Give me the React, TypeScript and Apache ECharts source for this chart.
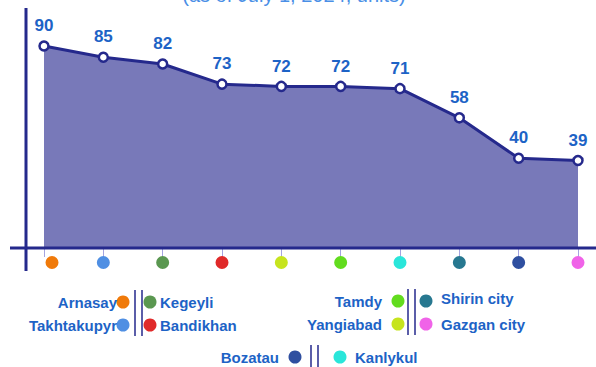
import React, { useEffect, useRef } from "react";
import * as echarts from "echarts";

// Districts in plotting order, with their unit counts and marker colours
const districts = [
  "Arnasay",
  "Takhtakupyr",
  "Kegeyli",
  "Bandikhan",
  "Yangiabad",
  "Tamdy",
  "Kanlykul",
  "Shirin city",
  "Bozatau",
  "Gazgan city",
];
const units = [90, 85, 82, 73, 72, 72, 71, 58, 40, 39];
const districtColors = [
  "#f07a0a",
  "#4f8fe3",
  "#5a9750",
  "#e02a2a",
  "#c6e41e",
  "#62dc1e",
  "#2ae6da",
  "#277890",
  "#2f4fa0",
  "#f063e8",
];

const titleText = "(as of July 1, 2024, units)";

// Legend layout: pairs of districts left/right of a double divider
const legendGroups = [
  { left: ["Arnasay", "Takhtakupyr"], right: ["Kegeyli", "Bandikhan"], x: 123, y: 302 },
  { left: ["Tamdy", "Yangiabad"], right: ["Shirin city", "Gazgan city"], x: 398, y: 301 },
  { left: ["Bozatau"], right: ["Kanlykul"], x: 295, y: 357 },
];

const NAVY = "#25298c";
const LABEL_BLUE = "#1d63c6";

function buildLegend() {
  const els: any[] = [];
  const colorOf = (n: string) => districtColors[districts.indexOf(n)];
  const font = "bold 15px 'Liberation Sans', Arial, sans-serif";
  legendGroups.forEach((g, gi) => {
    const rowGap = 23;
    const dotGapL = gi === 0 ? 6 : 16;
    const barX1 = g.x + (gi === 0 ? 12 : gi === 1 ? 10 : 16);
    const barX2 = barX1 + 7;
    const rightDotX = gi === 0 ? g.x + 27 : gi === 1 ? g.x + 28 : g.x + 45;
    const textGapR = gi === 0 ? 10 : 15;
    g.left.forEach((name, i) => {
      const y = g.y + i * rowGap;
      els.push({
        type: "circle",
        shape: { cx: g.x, cy: y, r: 6.5 },
        style: { fill: colorOf(name) },
      });
      els.push({
        type: "text",
        x: g.x - dotGapL,
        y,
        style: {
          text: name,
          font,
          fill: LABEL_BLUE,
          align: "right",
          verticalAlign: "middle",
        },
      });
    });
    g.right.forEach((name, i) => {
      const y = g.y + i * rowGap;
      els.push({
        type: "circle",
        shape: { cx: rightDotX, cy: y, r: 6.5 },
        style: { fill: colorOf(name) },
      });
      els.push({
        type: "text",
        x: rightDotX + textGapR,
        y: y - (gi === 1 && i === 0 ? 3 : 0),
        style: {
          text: name,
          font,
          fill: LABEL_BLUE,
          align: "left",
          verticalAlign: "middle",
        },
      });
    });
    const top = g.y - 12;
    const bottom = g.y + (g.left.length - 1) * rowGap + 11;
    [barX1, barX2].forEach((bx) =>
      els.push({
        type: "line",
        shape: { x1: bx, y1: top, x2: bx, y2: Math.min(bottom, 367) },
        style: { stroke: NAVY, lineWidth: 1.5 },
      })
    );
  });
  return els;
}

export default function App() {
  const ref = useRef<HTMLDivElement>(null);

  useEffect(() => {
    if (!ref.current) return;
    const chart = echarts.init(ref.current, undefined, { renderer: "svg" });

    const rich: Record<string, any> = { s: { width: 16, height: 13 } };
    districtColors.forEach((c, i) => {
      rich["d" + i] = {
        width: 13,
        height: 13,
        borderRadius: 6.5,
        backgroundColor: c,
      };
    });

    chart.setOption({
      animation: false,
      backgroundColor: "#ffffff",
      grid: { left: 44, right: 18, top: 46, bottom: 119 },
      xAxis: {
        type: "category",
        data: districts,
        boundaryGap: false,
        axisLine: { show: false },
        axisTick: {
          show: true,
          length: 9,
          lineStyle: { color: "#a4a4e0", width: 1 },
        },
        axisLabel: {
          margin: 8,
          interval: 0,
          // first marker sits a little right of its tick
          formatter: (_v: string, idx: number) =>
            idx === 0 ? `{s| }{d0| }` : `{d${idx}| }`,
          rich,
        },
      },
      yAxis: {
        type: "value",
        min: 0,
        max: 90,
        show: false,
        splitLine: { show: false },
      },
      series: [
        {
          type: "line",
          data: units,
          symbol: "circle",
          symbolSize: 9,
          itemStyle: { color: "#ffffff", borderColor: NAVY, borderWidth: 2.5 },
          lineStyle: { color: NAVY, width: 3 },
          areaStyle: { color: "#7879b9", opacity: 1 },
          label: {
            show: true,
            position: "top",
            distance: 6,
            color: LABEL_BLUE,
            fontSize: 17,
            fontWeight: "bold",
            fontFamily: "'Liberation Sans', Arial, sans-serif",
          },
          z: 3,
        },
      ],
      graphic: [
        {
          type: "text",
          x: 294,
          y: 5,
          style: {
            text: titleText,
            font: "20px 'Liberation Sans', Arial, sans-serif",
            fill: "#4a8fe6",
            align: "center",
            verticalAlign: "bottom",
          },
        },
        {
          type: "line",
          shape: { x1: 26, y1: 8, x2: 26, y2: 271 },
          style: { stroke: NAVY, lineWidth: 3 },
          z: 10,
        },
        {
          type: "line",
          shape: { x1: 10, y1: 248, x2: 596, y2: 248 },
          style: { stroke: NAVY, lineWidth: 3 },
          z: 10,
        },
        ...buildLegend(),
      ],
    });

    return () => chart.dispose();
  }, []);

  return (
    <div
      ref={ref}
      style={{ position: "absolute", left: 0, top: 0, width: 596, height: 367 }}
    />
  );
}
